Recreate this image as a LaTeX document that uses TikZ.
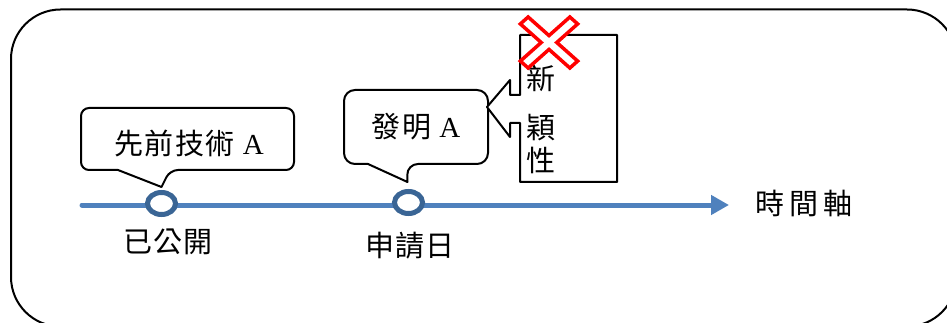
\documentclass[tikz,border=0pt]{standalone}
\usepackage{fontspec}
\setmainfont{Liberation Serif}
\newfontfamily\cjk{Noto Sans CJK TC}
\usetikzlibrary{arrows.meta,calc,shapes.geometric}
\definecolor{lineblue}{HTML}{4F81BD}
\definecolor{ringblue}{HTML}{3A6595}
\newcommand\gp{\hspace{1.5pt}}
\tikzset{
  lbl/.style={font=\fontsize{29}{34}\selectfont\cjk, inner sep=0pt},
  outline/.style={draw=black, line width=2pt, line join=round},
  ring/.style={ellipse, draw=ringblue, line width=5pt, fill=white, minimum width=28pt, minimum height=22pt, inner sep=0pt},
}
\begin{document}
\begin{tikzpicture}[x=1pt,y=-1pt]
\useasboundingbox (0,0) rectangle (947,323);
\begin{scope}
\clip (0,0) rectangle (947,323);
\draw[line width=2pt, rounded corners=49.5pt] (11,9.5) rectangle (956.5,326.5);
\end{scope}
% timeline
\coordinate (tl0) at (82,205);
\coordinate (tl1) at (729,205);
\draw[lineblue, line width=5pt, line cap=round, -{Triangle[length=18pt,width=19pt]}] (tl0) -- (tl1);
\node[ring] (c1) at (161.5,203.5) {};
\node[ring] (c2) at (408.5,202.5) {};
% labels below
\node[lbl] (l1) at (168,242) {已\gp 公\gp 開};
\node[lbl] (l2) at (410,246) {申\gp 請\gp 日};
\node[lbl] (l3) at (804,203) {時\hspace{5pt}間\hspace{5pt}軸};
% callout 1
\draw[outline, fill=white, rounded corners=8pt] (81,108) -- (294,108) -- (294,170) -- (170,170) [sharp corners] -- ($(c1.north)+(0,-3)$) -- (118,170) [rounded corners=8pt] -- (81,170) -- cycle;
\node[lbl] (b1) at (189,143) {先\gp 前\gp 技\gp 術\hspace{8pt}{\rmfamily A}};
% callout 2
\draw[outline, fill=white, rounded corners=11pt] (344,90) -- (488,90) -- (488,164) -- (407,164) [sharp corners] -- ($(c2.north)+(-1,-7)$) -- (368,164) [rounded corners=11pt] -- (344,164) -- cycle;
\node[lbl] (b2) at (416,127) {發\gp 明\hspace{8pt}{\rmfamily A}};
% novelty box
\coordinate (tip) at (487,107);
\draw[outline, fill=white] (520,35) -- (617,35) -- (617,182) -- (520,182) -- (520,123) -- (510,123) -- (510,137) -- (tip) -- (510,80) -- (510,95) -- (520,95) -- cycle;
\node[lbl] (n1) at (541,78) {新};
\node[lbl] (n2) at (541,128) {穎};
\node[lbl] (n3) at (541,160) {性};
% red X
\draw[red, line width=3.5pt, fill=white, line join=miter, shift={(549,42.5)}, yscale=0.89, rotate=45]
  (35,5.5) -- (5.5,5.5) -- (5.5,35) -- (-5.5,35) -- (-5.5,5.5) -- (-35,5.5) -- (-35,-5.5) -- (-5.5,-5.5) -- (-5.5,-35) -- (5.5,-35) -- (5.5,-5.5) -- (35,-5.5) -- cycle;
\end{tikzpicture}
\end{document}
